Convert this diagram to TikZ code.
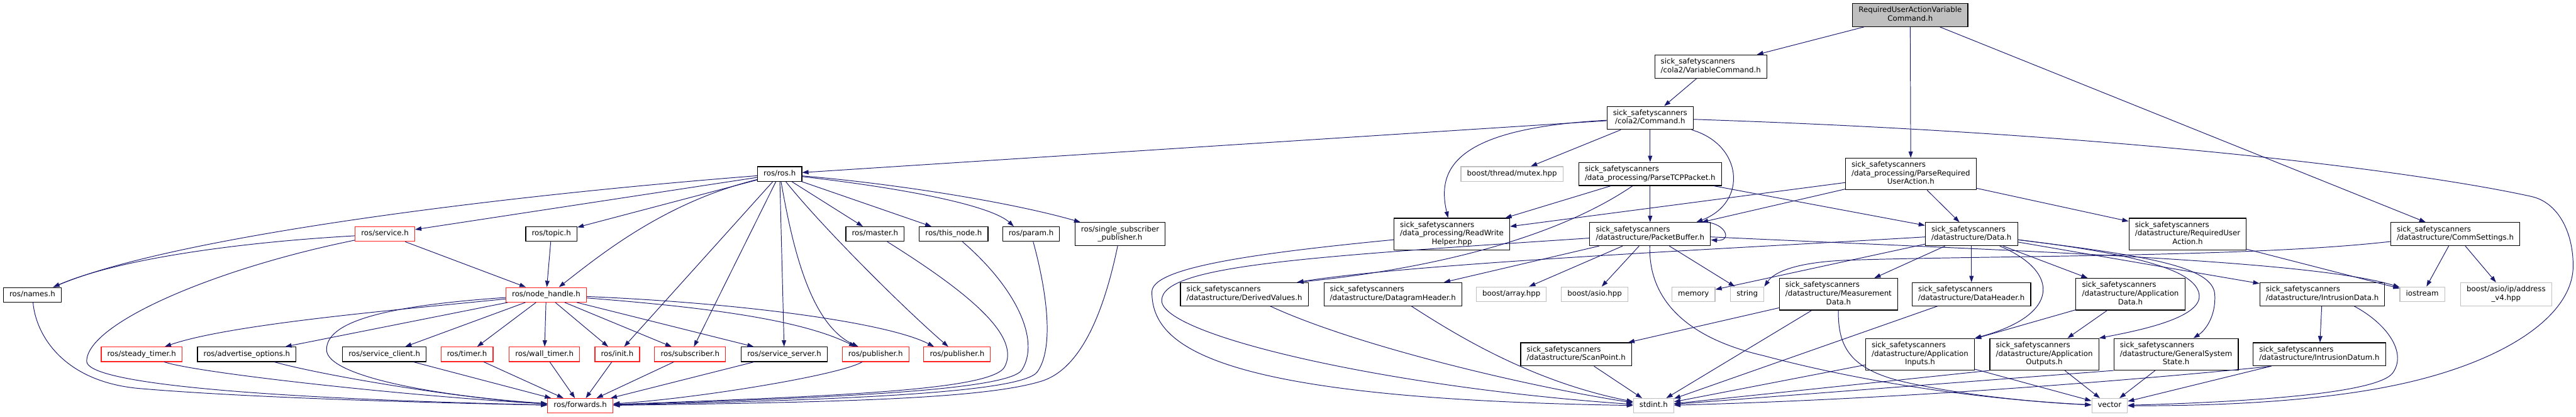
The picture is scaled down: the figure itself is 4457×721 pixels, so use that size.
\documentclass[tikz,border=0pt]{standalone}
\usepackage{fontspec}
\setmainfont{DejaVu Sans}
\usetikzlibrary{arrows.meta,calc}
\definecolor{edgeblue}{HTML}{191970}
\definecolor{cutred}{HTML}{FF2020}
\definecolor{sysgray}{HTML}{BFBFBF}
\definecolor{mainfill}{HTML}{BFBFBF}
\newcommand{\sick}{sick\_safetyscanners}
\newcommand{\lone}[1]{\begin{tabular}{@{}c@{}}#1\end{tabular}}
\newcommand{\ltwo}[2]{\begin{tabular}{@{}l@{}}#1\\\multicolumn{1}{@{}c@{}}{#2}\end{tabular}}
\newcommand{\lthree}[3]{\begin{tabular}{@{}l@{}}#1\\#2\\\multicolumn{1}{@{}c@{}}{#3}\end{tabular}}

\begin{document}
\begin{tikzpicture}[x=0.02cm,y=-0.02cm,font=\fontsize{7.3}{8.4}\selectfont,
  hdr/.style={draw=black,line width=0.7pt,fill=white,inner xsep=0.21cm,inner ysep=0.105cm},
  hdrred/.style={hdr,draw=cutred},
  hdrsys/.style={hdr,draw=sysgray},
  hdrmain/.style={hdr,fill=mainfill},
  edge/.style={edgeblue,line width=0.6pt,-{Triangle[length=0.22cm,width=0.15cm]}}]
  \fill[white] (0,0) rectangle (4457,721);
  \path[use as bounding box] (0,0) rectangle (4457,721);

  \node[hdrmain] (root) at (3305,26) {\ltwo{RequiredUserActionVariable}{Command.h}};
  \node[hdr] (varcmd) at (2960,115) {\ltwo{\sick}{/cola2/VariableCommand.h}};
  \node[hdr] (cmd) at (2855,204) {\ltwo{\sick}{/cola2/Command.h}};
  \node[hdrsys] (mutex) at (2616,301) {\lone{boost/thread/mutex.hpp}};
  \node[hdr] (ptcp) at (2855,301) {\ltwo{\sick}{/data\_processing/ParseTCPPacket.h}};
  \node[hdr] (prua) at (3306,301) {\lthree{\sick}{/data\_processing/ParseRequired}{UserAction.h}};
  \node[hdr] (rosh) at (1349,301) {\lone{ros/ros.h}};

  \node[hdr] (rwh) at (2512,405) {\lthree{\sick}{/data\_processing/ReadWrite}{Helper.hpp}};
  \node[hdr] (pb) at (2855,405) {\ltwo{\sick}{/datastructure/PacketBuffer.h}};
  \node[hdr] (data) at (3411,405) {\ltwo{\sick}{/datastructure/Data.h}};
  \node[hdr] (rua) at (3785,405) {\lthree{\sick}{/datastructure/RequiredUser}{Action.h}};
  \node[hdr] (comm) at (4248,405) {\ltwo{\sick}{/datastructure/CommSettings.h}};
  \node[hdrred] (service) at (666,405) {\lone{ros/service.h}};
  \node[hdr] (topic) at (954,405) {\lone{ros/topic.h}};
  \node[hdr] (master) at (1514,405) {\lone{ros/master.h}};
  \node[hdr] (thisnode) at (1650,405) {\lone{ros/this\_node.h}};
  \node[hdr] (param) at (1784,405) {\lone{ros/param.h}};
  \node[hdr] (singlesub) at (1938,405) {\ltwo{ros/single\_subscriber}{\_publisher.h}};

  \node[hdr] (names) at (56,510) {\lone{ros/names.h}};
  \node[hdrred] (nodehandle) at (945,510) {\lone{ros/node\_handle.h}};
  \node[hdr] (derived) at (2153,509) {\ltwo{\sick}{/datastructure/DerivedValues.h}};
  \node[hdr] (dgram) at (2410,509) {\ltwo{\sick}{/datastructure/DatagramHeader.h}};
  \node[hdrsys] (array) at (2615,509) {\lone{boost/array.hpp}};
  \node[hdrsys] (asio) at (2759,509) {\lone{boost/asio.hpp}};
  \node[hdrsys] (memory) at (2930,509) {\lone{memory}};
  \node[hdrsys] (string) at (3023,509) {\lone{string}};
  \node[hdr] (measdata) at (3181,509) {\lthree{\sick}{/datastructure/Measurement}{Data.h}};
  \node[hdr] (dataheader) at (3411,509) {\ltwo{\sick}{/datastructure/DataHeader.h}};
  \node[hdr] (appdata) at (3686,509) {\lthree{\sick}{/datastructure/Application}{Data.h}};
  \node[hdr] (intrdata) at (4018,509) {\ltwo{\sick}{/datastructure/IntrusionData.h}};
  \node[hdrsys] (iostream) at (4191,509) {\lone{iostream}};
  \node[hdrsys] (addrv4) at (4336,509) {\ltwo{boost/asio/ip/address}{\_v4.hpp}};

  \node[hdrred] (steady) at (245,613) {\lone{ros/steady\_timer.h}};
  \node[hdr] (advopt) at (427,613) {\lone{ros/advertise\_options.h}};
  \node[hdr] (srvclient) at (665,613) {\lone{ros/service\_client.h}};
  \node[hdrred] (timer) at (808,613) {\lone{ros/timer.h}};
  \node[hdrred] (walltimer) at (942,613) {\lone{ros/wall\_timer.h}};
  \node[hdrred] (init) at (1068,613) {\lone{ros/init.h}};
  \node[hdrred] (subscriber) at (1194,613) {\lone{ros/subscriber.h}};
  \node[hdr] (srvserver) at (1357,613) {\lone{ros/service\_server.h}};
  \node[hdrred] (pubA) at (1515,613) {\lone{ros/publisher.h}};
  \node[hdrred] (pubB) at (1656,613) {\lone{ros/publisher.h}};
  \node[hdr] (scanpoint) at (2727,613) {\ltwo{\sick}{/datastructure/ScanPoint.h}};
  \node[hdr] (appin) at (3322,613) {\lthree{\sick}{/datastructure/Application}{Inputs.h}};
  \node[hdr] (appout) at (3537,613) {\lthree{\sick}{/datastructure/Application}{Outputs.h}};
  \node[hdr] (gss) at (3765,613) {\lthree{\sick}{/datastructure/GeneralSystem}{State.h}};
  \node[hdr] (intrdatum) at (4013,613) {\ltwo{\sick}{/datastructure/IntrusionDatum.h}};

  \node[hdrred] (forwards) at (1004,702) {\lone{ros/forwards.h}};
  \node[hdrsys] (stdint) at (2861,702) {\lone{stdint.h}};
  \node[hdrsys] (vector) at (3650,702) {\lone{vector}};

  % top of the graph
  \draw[edge] (root) -- (varcmd);
  \draw[edge] (root) -- (prua);
  \draw[edge] (root) -- (comm);
  \draw[edge] (varcmd) -- (cmd);
  \draw[edge] (cmd) -- (rosh);
  \draw[edge] (cmd) -- (mutex);
  \draw[edge] (cmd) -- (ptcp);
  \draw[edge] (cmd) .. controls (2520,222) and (2485,290) .. (rwh);
  \draw[edge] (cmd) .. controls (3015,250) and (3025,350) .. ($(pb.north east)+(-25,0)$);
  \draw[edge] (cmd) .. controls (3700,232) and (4200,300) .. (4380,340) .. controls (4425,350) and (4452,400) .. (4452,460) .. controls (4452,540) and (4350,615) .. (4185,657) .. controls (4020,699) and (3800,702) .. (vector);
  \foreach \t in {rwh,pb,data,rua}
    \draw[edge] (prua) -- (\t);
  \draw[edge] (ptcp) -- (rwh);
  \draw[edge] (ptcp) -- (pb);
  \draw[edge] (ptcp) -- (data);
  \draw[edge] (ptcp) .. controls (2680,420) and (2450,468) .. ($(derived.north east)+(-20,0)$);

  % PacketBuffer and ReadWriteHelper
  \draw[edge] ($(pb.north east)+(-22,0)$) .. controls (2985,380) and (3000,418) .. ($(pb.east)+(0,10)$);
  \foreach \t in {dgram,array,asio,string}
    \draw[edge] (pb) -- (\t);
  \draw[edge] (pb) .. controls (2250,445) and (2010,460) .. (2010,520) .. controls (2010,580) and (2400,670) .. (stdint);
  \draw[edge] (pb) .. controls (2852,520) and (2920,585) .. (3050,615) .. controls (3245,667) and (3450,692) .. (vector);
  \draw[edge] (pb) .. controls (3500,435) and (4000,450) .. (iostream);
  \draw[edge] (rwh) .. controls (2150,440) and (1993,465) .. (1993,505) .. controls (1993,600) and (2100,690) .. (stdint);

  % Data
  \draw[edge] (data) .. controls (3000,430) and (2450,455) .. ($(derived.north east)+(-20,0)$);
  \foreach \t in {memory,measdata,dataheader,appdata,intrdata}
    \draw[edge] (data) -- (\t);
  \draw[edge] (data) .. controls (3565,470) and (3565,545) .. (appin.north east);
  \draw[edge] (data) .. controls (3700,440) and (3800,468) .. (3805,510) .. controls (3810,550) and (3700,572) .. (appout.north east);
  \draw[edge] (data) .. controls (3720,443) and (3830,462) .. (3832,510) .. controls (3834,548) and (3815,572) .. ($(gss.north)+(30,0)$);

  % lower right rows
  \draw[edge] (measdata) -- (scanpoint);
  \draw[edge] (measdata) -- (stdint);
  \draw[edge] (measdata) .. controls (3180,600) and (3200,640) .. (3300,662) .. controls (3400,684) and (3520,696) .. (vector);
  \draw[edge] (dataheader) -- (stdint);
  \draw[edge] (appdata) -- (appout);
  \draw[edge] (appdata) -- (appin);
  \draw[edge] (appin) -- (stdint);
  \draw[edge] (appin) -- (vector);
  \draw[edge] (appout.south west) -- (stdint);
  \draw[edge] (appout) -- (vector);
  \draw[edge] (gss.south west) -- (stdint);
  \draw[edge] (gss) -- (vector);
  \draw[edge] (intrdata) -- (intrdatum);
  \draw[edge] ($(intrdata.south)+(55,0)$) .. controls (4130,560) and (4165,610) .. (4140,645) .. controls (4115,680) and (3900,695) .. (vector);
  \draw[edge] ($(intrdatum.south west)+(32,0)$) .. controls (3700,657) and (3300,690) .. (stdint);
  \draw[edge] (intrdatum) -- (vector);
  \draw[edge] (scanpoint) -- (stdint);
  \draw[edge] (derived) .. controls (2350,600) and (2650,670) .. (stdint);
  \draw[edge] (dgram) .. controls (2520,580) and (2650,660) .. (stdint);
  \draw[edge] (rua) -- (iostream);
  \draw[edge] (comm) .. controls (3900,445) and (3450,442) .. (3200,450) .. controls (3110,453) and (3070,470) .. (string.north east);
  \draw[edge] (comm) -- (iostream);
  \draw[edge] (comm) -- (addrv4);

  % ros part
  \draw[edge] (rosh) .. controls (850,340) and (300,410) .. ($(names.north)+(36,0)$);
  \draw[edge] (rosh) -- (service);
  \draw[edge] (rosh) -- (topic);
  \draw[edge] (rosh) .. controls (1150,350) and (1040,440) .. ($(nodehandle.north)+(22,0)$);
  \foreach \t in {init,subscriber,srvserver,master,thisnode}
    \draw[edge] (rosh) -- (\t);
  \draw[edge] (rosh) .. controls (1370,420) and (1400,560) .. ($(pubA.north)+(-30,0)$);
  \draw[edge] (rosh) .. controls (1600,330) and (1720,360) .. ($(param.north)+(-30,0)$);
  \draw[edge] (rosh) .. controls (1550,318) and (1750,350) .. ($(singlesub.north west)+(10,0)$);
  \draw[edge] (rosh) .. controls (1420,390) and (1560,530) .. (pubB);
  \draw[edge] (service) .. controls (400,420) and (200,450) .. ($(names.north)+(36,0)$);
  \draw[edge] (service) -- (nodehandle);
  \draw[edge] (service) .. controls (370,465) and (150,560) .. (150,625) .. controls (150,660) and (400,688) .. (forwards);
  \draw[edge] (names) .. controls (62,580) and (110,660) .. (240,672) .. controls (450,690) and (800,698) .. (forwards);
  \draw[edge] (topic) -- (nodehandle);
  \draw[edge] (nodehandle) .. controls (700,535) and (400,560) .. ($(steady.north)+(40,0)$);
  \draw[edge] (nodehandle) -- (advopt);
  \draw[edge] (nodehandle) -- (srvclient);
  \draw[edge] (nodehandle) .. controls (650,530) and (565,560) .. (565,605) .. controls (565,650) and (750,685) .. (forwards);
  \foreach \t in {timer,walltimer,init,subscriber,srvserver}
    \draw[edge] (nodehandle) -- (\t);
  \draw[edge] (nodehandle) .. controls (1200,530) and (1380,550) .. ($(pubA.north)+(-35,0)$);
  \draw[edge] (nodehandle) .. controls (1300,525) and (1540,560) .. ($(pubB.north)+(-40,0)$);
  \foreach \t in {timer,walltimer,init,subscriber,srvserver,srvclient}
    \draw[edge] (\t) -- (forwards);
  \draw[edge] (steady) .. controls (340,645) and (700,685) .. (forwards);
  \draw[edge] (advopt) .. controls (560,650) and (800,690) .. (forwards);
  \draw[edge] (pubA) .. controls (1450,650) and (1200,690) .. (forwards);
  \draw[edge] (master) .. controls (1690,515) and (1765,585) .. (1738,635) .. controls (1715,675) and (1450,685) .. (forwards);
  \draw[edge] (thisnode) .. controls (1760,500) and (1800,590) .. (1768,640) .. controls (1745,675) and (1450,688) .. (forwards);
  \draw[edge] (param) .. controls (1810,500) and (1825,600) .. (1795,643) .. controls (1770,680) and (1450,692) .. (forwards);
  \draw[edge] (singlesub) .. controls (1910,540) and (1870,640) .. (1800,660) .. controls (1700,690) and (1450,696) .. (forwards);
\end{tikzpicture}
\end{document}
